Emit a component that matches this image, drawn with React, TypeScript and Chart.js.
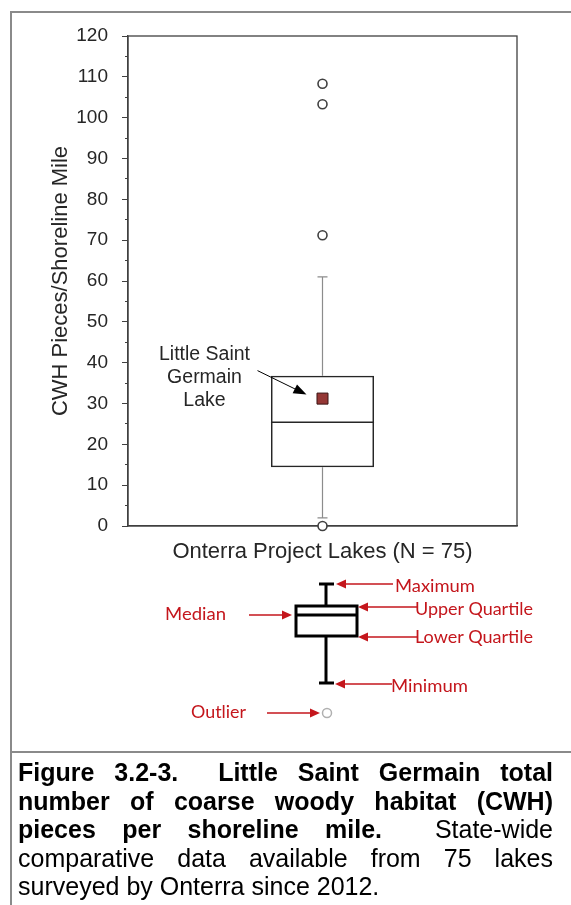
import React, { useEffect, useRef } from 'react';
import { Chart, registerables } from 'chart.js';

Chart.register(...registerables);

// ---------- data ----------
const categories = ['Onterra Project Lakes (N = 75)'];
const boxQ1 = [14.4];
const boxMedian = [25.4];
const boxQ3 = [36.8];
const whiskerMin = [2.0];
const whiskerMax = [61.0];
const outlierValues = [0, 71.2, 103.3, 108.3];
const lakeValue = [31.2];
const lakeLabelLines = ['Little Saint', 'Germain', 'Lake'];
const yMin = 0;
const yMax = 120;
const yMinorStep = 5;
const yMajorStep = 10;
const yTitle = 'CWH Pieces/Shoreline Mile';

const legendLabels = ['Maximum', 'Upper Quartile', 'Lower Quartile', 'Minimum', 'Median', 'Outlier'];

const FONT = "'Liberation Sans', Arial, sans-serif";
const TEXT = '#262626';
const RED = '#c4161c';

const boxPlugin = {
  id: 'boxExtras',
  beforeDatasetsDraw(chart: any) {
    const { ctx, chartArea, scales } = chart;
    const y = scales.y;
    const bar = chart.getDatasetMeta(0).data[0];
    const { x: cx } = bar.getProps(['x'], true);
    ctx.save();
    // whiskers
    ctx.strokeStyle = '#8c8c8c';
    ctx.lineWidth = 1.2;
    const pMax = y.getPixelForValue(whiskerMax[0]);
    const pMin = y.getPixelForValue(whiskerMin[0]);
    const pQ3 = y.getPixelForValue(boxQ3[0]);
    const pQ1 = y.getPixelForValue(boxQ1[0]);
    ctx.beginPath();
    ctx.moveTo(cx, pMax);
    ctx.lineTo(cx, pQ3);
    ctx.moveTo(cx, pQ1);
    ctx.lineTo(cx, pMin);
    ctx.moveTo(cx - 5, pMax);
    ctx.lineTo(cx + 5, pMax);
    ctx.moveTo(cx - 5, pMin);
    ctx.lineTo(cx + 5, pMin);
    ctx.stroke();
    // plot frame
    ctx.strokeStyle = '#404040';
    ctx.lineWidth = 1.3;
    ctx.strokeRect(chartArea.left, chartArea.top, chartArea.right - chartArea.left, chartArea.bottom - chartArea.top);
    ctx.restore();
  },
  afterDatasetsDraw(chart: any) {
    const { ctx, scales } = chart;
    const y = scales.y;
    const bar = chart.getDatasetMeta(0).data[0];
    const { x: cx, width } = bar.getProps(['x', 'width'], true);
    ctx.save();
    // median
    const pMed = y.getPixelForValue(boxMedian[0]);
    ctx.strokeStyle = '#262626';
    ctx.lineWidth = 1.5;
    ctx.beginPath();
    ctx.moveTo(cx - width / 2, pMed);
    ctx.lineTo(cx + width / 2, pMed);
    ctx.stroke();
    // annotation
    const mx = cx;
    const my = y.getPixelForValue(lakeValue[0]);
    ctx.fillStyle = TEXT;
    ctx.font = `19.5px ${FONT}`;
    ctx.textAlign = 'center';
    ctx.textBaseline = 'middle';
    const offs = [-44, -21, 2];
    lakeLabelLines.forEach((t, i) => ctx.fillText(t, mx - 118, my + offs[i]));
    // arrow
    const x0 = mx - 65, y0 = my - 28;
    const x1 = mx - 16, y1 = my - 4;
    const ang = Math.atan2(y1 - y0, x1 - x0);
    ctx.strokeStyle = '#000';
    ctx.lineWidth = 1;
    ctx.beginPath();
    ctx.moveTo(x0, y0);
    ctx.lineTo(x1 - 10 * Math.cos(ang), y1 - 10 * Math.sin(ang));
    ctx.stroke();
    ctx.fillStyle = '#000';
    ctx.beginPath();
    ctx.moveTo(x1, y1);
    ctx.lineTo(x1 - 13 * Math.cos(ang) + 5 * Math.sin(ang), y1 - 13 * Math.sin(ang) - 5 * Math.cos(ang));
    ctx.lineTo(x1 - 13 * Math.cos(ang) - 5 * Math.sin(ang), y1 - 13 * Math.sin(ang) + 5 * Math.cos(ang));
    ctx.closePath();
    ctx.fill();
    ctx.restore();
  },
};

function Arrow({ x1, x2, y }: { x1: number; x2: number; y: number }) {
  // x2 is the tip
  const dir = x2 > x1 ? 1 : -1;
  const head = 10;
  return (
    <g>
      <line x1={x1} y1={y} x2={x2 - dir * head} y2={y} stroke={RED} strokeWidth={1.6} />
      <polygon points={`${x2},${y} ${x2 - dir * head},${y - 4.5} ${x2 - dir * head},${y + 4.5}`} fill={RED} />
    </g>
  );
}

export default function App() {
  const canvasRef = useRef<HTMLCanvasElement | null>(null);

  useEffect(() => {
    const canvas = canvasRef.current;
    if (!canvas) return;
    const cat = categories[0];
    const chart = new Chart(canvas, {
      type: 'bar',
      data: {
        labels: categories,
        datasets: [
          {
            type: 'bar',
            data: [[boxQ1[0], boxQ3[0]]] as any,
            backgroundColor: 'rgba(255,255,255,0)',
            borderColor: '#262626',
            borderWidth: 1.5,
            borderSkipped: false,
            barPercentage: 0.265,
            categoryPercentage: 1,
            order: 2,
          } as any,
          {
            type: 'line',
            data: outlierValues.map((v) => ({ x: cat, y: v })) as any,
            showLine: false,
            pointStyle: 'circle',
            pointRadius: 4.5,
            pointBackgroundColor: '#ffffff',
            pointBorderColor: '#404040',
            pointBorderWidth: 1.6,
            clip: false,
            order: 0,
          } as any,
          {
            type: 'line',
            data: lakeValue.map((v) => ({ x: cat, y: v })) as any,
            showLine: false,
            pointStyle: 'rect',
            pointRadius: 7.8,
            pointBackgroundColor: '#953735',
            pointBorderColor: '#3c1414',
            pointBorderWidth: 1,
            clip: false,
            order: 0,
          } as any,
        ],
      },
      options: {
        animation: false,
        responsive: false,
        devicePixelRatio: 1,
        layout: { padding: { left: 48, top: 36, right: 54, bottom: 14 } },
        plugins: { legend: { display: false }, tooltip: { enabled: false } },
        scales: {
          x: {
            type: 'category',
            offset: true,
            grid: { display: true, drawOnChartArea: false, drawTicks: false },
            border: { display: true, color: '#404040', width: 1.3 },
            ticks: { color: TEXT, font: { family: FONT, size: 22 }, padding: 13 },
            afterFit: (s: any) => {
              s.height = 40;
            },
          },
          y: {
            min: yMin,
            max: yMax,
            grid: {
              drawOnChartArea: false,
              drawTicks: true,
              tickLength: 6,
              tickColor: '#404040',
              tickWidth: 1,
              tickBorderDash: (c: any) => (c.tick && c.tick.value % yMajorStep !== 0 ? [3, 3] : []),
              tickBorderDashOffset: (c: any) => (c.tick && c.tick.value % yMajorStep !== 0 ? 3 : 0),
            } as any,
            border: { display: true, color: '#404040', width: 1.3 },
            ticks: {
              stepSize: yMinorStep,
              autoSkip: false,
              color: TEXT,
              padding: 14,
              font: { family: FONT, size: 19 },
              callback: (v: any) => (Number(v) % yMajorStep === 0 ? String(v) : ''),
            },
            title: {
              display: true,
              text: yTitle,
              color: TEXT,
              font: { family: FONT, size: 22 },
              padding: { top: 0, bottom: 0 },
            },
            afterFit: (s: any) => {
              s.width = 80;
            },
          },
        },
      },
      plugins: [boxPlugin],
    } as any);
    return () => chart.destroy();
  }, []);

  const capStyle: React.CSSProperties = {
    position: 'absolute',
    left: 18,
    width: 535,
    height: 28.6,
    lineHeight: '28.6px',
    fontFamily: FONT,
    fontSize: 25,
    color: '#000',
    textAlign: 'justify',
    textAlignLast: 'justify' as any,
  };

  return (
    <div style={{ position: 'absolute', left: 0, top: 0, width: 571, height: 905, background: '#fff', overflow: 'hidden' }}>
      <canvas ref={canvasRef} width={571} height={580} style={{ position: 'absolute', left: 0, top: 0, width: 571, height: 580 }} />
      <svg width={571} height={905} style={{ position: 'absolute', left: 0, top: 0 }}>
        {/* frame */}
        <line x1={11} y1={11} x2={11} y2={905} stroke="#8a8a8a" strokeWidth={2} />
        <line x1={10} y1={12} x2={571} y2={12} stroke="#8a8a8a" strokeWidth={2} />
        <line x1={10} y1={752} x2={571} y2={752} stroke="#8a8a8a" strokeWidth={2} />
        {/* legend box plot */}
        <g stroke="#000" strokeWidth={3} fill="none">
          <line x1={326} y1={584} x2={326} y2={606} />
          <line x1={326} y1={636} x2={326} y2={683} />
          <line x1={319} y1={584} x2={334} y2={584} />
          <line x1={319} y1={683} x2={334} y2={683} />
          <rect x={296} y={606} width={61} height={30} />
          <line x1={296} y1={615} x2={357} y2={615} />
        </g>
        <circle cx={327} cy={713} r={4.5} fill="#fff" stroke="#b0b0b0" strokeWidth={1.5} />
        <Arrow x1={393} x2={336} y={584} />
        <Arrow x1={417} x2={358} y={607} />
        <Arrow x1={417} x2={358} y={637} />
        <Arrow x1={392} x2={335} y={684} />
        <Arrow x1={249} x2={292} y={615} />
        <Arrow x1={267} x2={320} y={713} />
        <g fill={RED} fontFamily="Lato, 'Open Sans', sans-serif" fontSize={18}>
          <text x={395} y={592} textLength={80} lengthAdjust="spacingAndGlyphs">{legendLabels[0]}</text>
          <text x={415} y={615} textLength={118} lengthAdjust="spacingAndGlyphs">{legendLabels[1]}</text>
          <text x={415} y={643} textLength={118} lengthAdjust="spacingAndGlyphs">{legendLabels[2]}</text>
          <text x={391} y={692} textLength={77} lengthAdjust="spacingAndGlyphs">{legendLabels[3]}</text>
          <text x={165} y={620} textLength={61} lengthAdjust="spacingAndGlyphs">{legendLabels[4]}</text>
          <text x={191} y={718} textLength={55} lengthAdjust="spacingAndGlyphs">{legendLabels[5]}</text>
        </g>
      </svg>
      <div style={{ ...capStyle, top: 758, fontWeight: 'bold' }}>Figure 3.2-3.{'\u00a0 '}Little Saint Germain total</div>
      <div style={{ ...capStyle, top: 758 + 28.6, fontWeight: 'bold' }}>number of coarse woody habitat (CWH)</div>
      <div style={{ ...capStyle, top: 758 + 28.6 * 2 }}>
        <b>pieces per shoreline mile.</b>{'\u00a0 '}State-wide
      </div>
      <div style={{ ...capStyle, top: 758 + 28.6 * 3 }}>comparative data available from 75 lakes</div>
      <div style={{ ...capStyle, top: 758 + 28.6 * 4, textAlign: 'left', textAlignLast: 'left' as any }}>
        surveyed by Onterra since 2012.
      </div>
    </div>
  );
}
